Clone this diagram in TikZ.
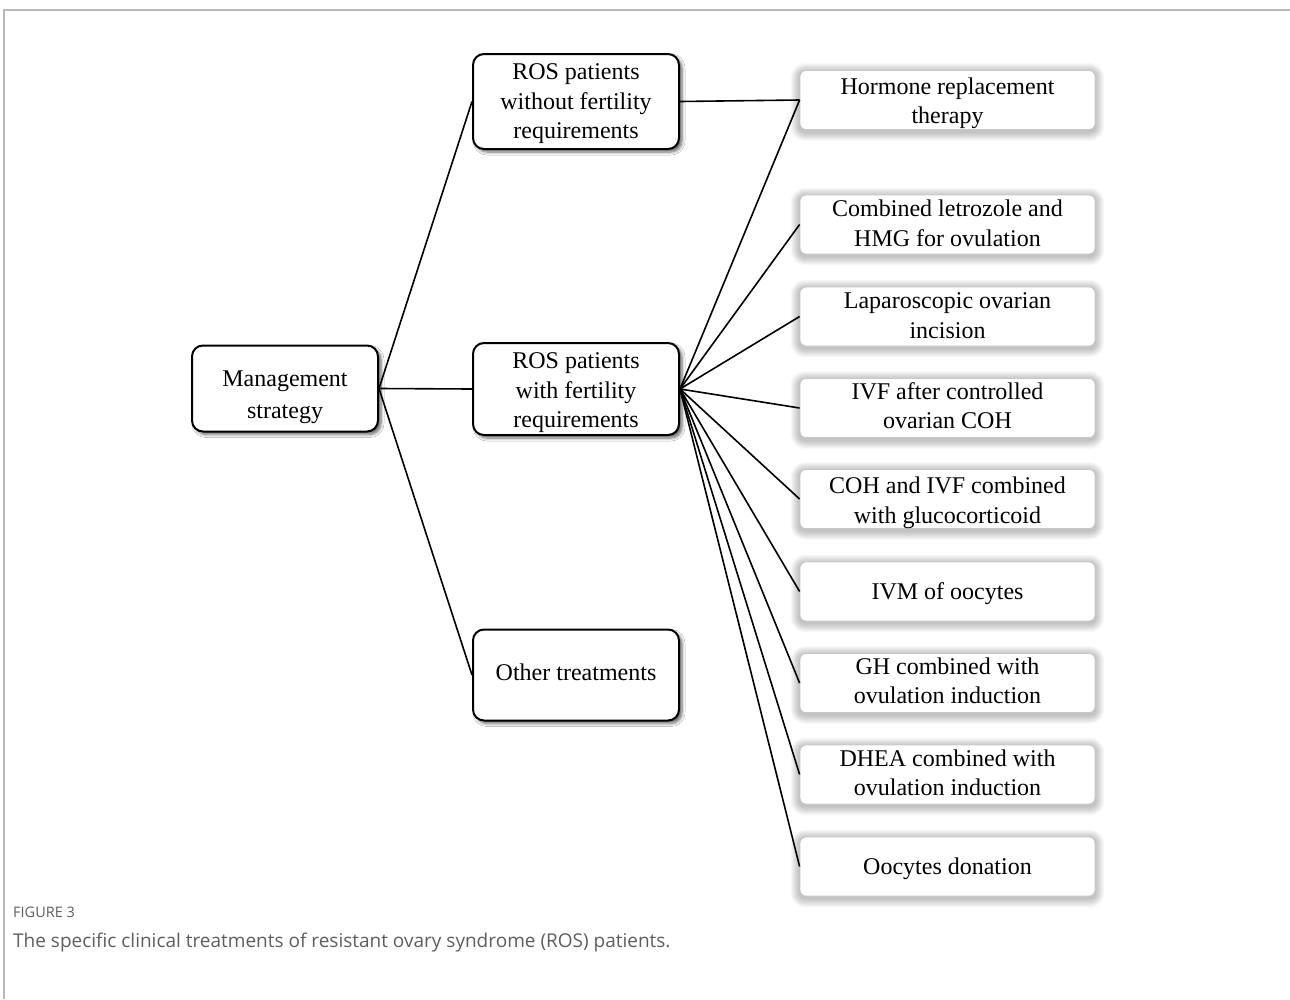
\documentclass[tikz,border=0pt]{standalone}
\usepackage{fontspec}
\setmainfont{Liberation Serif}
\newfontfamily\capfont{Open Sans}
\usetikzlibrary{shadows.blur,backgrounds,calc}
\definecolor{capgray}{HTML}{5E5E5E}
\definecolor{framegray}{HTML}{B8B8B8}
\newcommand\boxtext[2][-2pt]{\raisebox{#1}[\height][\depth]{\begin{tabular}{@{}c@{}}#2\end{tabular}}}
\begin{document}
\begin{tikzpicture}[x=1pt,y=-1pt,
  txt/.style={font=\fontsize{24}{29.5}\selectfont, text=black},
  leftbox/.style={txt, draw=black, line width=2pt, rounded corners=11pt, fill=white,
     minimum width=#1, inner sep=0pt,
     blur shadow={shadow xshift=3pt, shadow yshift=-3pt, shadow blur steps=6, shadow blur radius=3pt, shadow opacity=60}},
  rightbox/.style={txt, draw=black!22, line width=0.8pt, rounded corners=6pt, fill=white,
     minimum width=295pt, minimum height=59pt, inner sep=0pt},
  glow/.style={black, opacity=0.028},
  conn/.style={line width=1.6pt, black}]
\useasboundingbox (0,0) rectangle (1290,999);
\draw[framegray, line width=1.5pt] (1290,10) -- (4,10) -- (4,999);

\node[leftbox=186pt, minimum height=86pt, font=\fontsize{24}{32}\selectfont] (ms) at (285,388.5) {\boxtext[-8pt]{Management\\strategy}};
\node[leftbox=206pt, minimum height=95pt] (wo) at (576,101.5) {\boxtext{ROS patients\\without fertility\\requirements}};
\node[leftbox=206pt, minimum height=92pt] (wi) at (576,389) {\boxtext[-3.5pt]{ROS patients\\with fertility\\requirements}};
\node[leftbox=206pt, minimum height=91pt] (ot) at (576,675) {\boxtext[0pt]{Other treatments}};

\node[rightbox] (r1) at (947.5,100) {\boxtext[-3pt]{Hormone replacement\\therapy}};
\node[rightbox] (r2) at (947.5,224.5) {\boxtext[-1pt]{Combined letrozole and\\HMG for ovulation}};
\node[rightbox] (r3) at (947.5,316.5) {\boxtext[-1pt]{Laparoscopic ovarian\\incision}};
\node[rightbox] (r4) at (947.5,408) {\boxtext[0pt]{IVF after controlled\\ovarian COH}};
\node[rightbox] (r5) at (947.5,499) {\boxtext[-3.5pt]{COH and IVF combined\\with glucocorticoid}};
\node[rightbox] (r6) at (947.5,591.5) {\boxtext{IVM of oocytes}};
\node[rightbox] (r7) at (947.5,683) {\boxtext[0pt]{GH combined with\\ovulation induction}};
\node[rightbox] (r8) at (947.5,774.5) {\boxtext[-0.5pt]{DHEA combined with\\ovulation induction}};
\node[rightbox] (r9) at (947.5,866.5) {\boxtext{Oocytes donation}};

\begin{scope}[on background layer]
\fill[white] (0,0) rectangle (1290,999);
\foreach \r in {r1,r2,r3,r4,r5,r6,r7,r8,r9}
  \foreach \i in {1,...,9}
    \fill[glow, rounded corners={6pt+\i pt}] ($(\r.south west)+(-\i,\i+2)$) rectangle ($(\r.north east)+(\i,-\i+2)$);
\end{scope}

\draw[conn] (ms.east) -- (wo.west);
\draw[conn] (ms.east) -- (wi.west);
\draw[conn] (ms.east) -- (ot.west);
\draw[conn] (wo.east) -- (r1.west);
\foreach \r in {r1,r2,r3,r4,r5,r6,r7,r8,r9}
  \draw[conn] (wi.east) -- (\r.west);

\node[anchor=base west, inner sep=0pt, text=capgray, font=\capfont\fontsize{14.5}{17}\selectfont] (fig) at (13,917) {FIGURE 3};
\node[anchor=base west, inner sep=0pt, text=capgray, font=\capfont\fontsize{19}{23}\selectfont] (cap) at (13,947) {The specific clinical treatments of resistant ovary syndrome (ROS) patients.};
\end{tikzpicture}
\end{document}
